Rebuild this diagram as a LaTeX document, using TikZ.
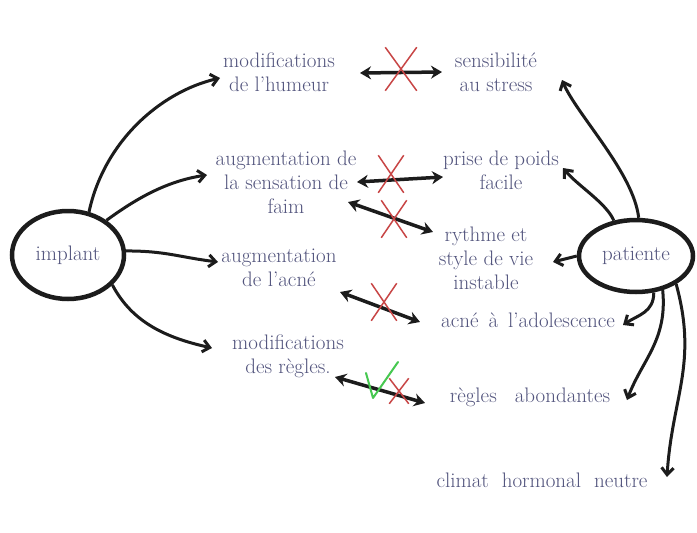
\documentclass[tikz,border=0pt]{standalone}
\usetikzlibrary{arrows.meta,shapes.geometric,shapes.misc}
\definecolor{ink}{RGB}{82,84,125}
\definecolor{pen}{RGB}{28,28,28}
\definecolor{xred}{RGB}{200,70,70}
\definecolor{vgreen}{RGB}{70,200,80}
\newcommand\wordgap[1]{\spaceskip=#1\relax}
\begin{document}
\begin{tikzpicture}[x=1pt,y=-1pt,
  txt/.style={text=ink,align=center,inner sep=1pt,font=\fontsize{21}{24}\selectfont},
  bubble/.style={ellipse,draw=pen,line width=4.5pt,inner sep=0pt,text=ink,font=\fontsize{21}{24}\selectfont},
  onearrow/.style={draw=pen,line width=3pt,-{Straight Barb[length=7pt,width=12pt,line width=3pt]}},
  twoarrow/.style={draw=pen,line width=3.5pt,{Stealth[length=11pt,width=13pt]}-{Stealth[length=11pt,width=13pt]}},
  redx/.style={cross out,draw=xred,line width=1.5pt,inner sep=0pt}]
\useasboundingbox[fill=white] (0,0) rectangle (697,533);

% central bubbles
\node[bubble,minimum width=112pt,minimum height=88pt] (implant) at (68,255) {implant};
\node[bubble,minimum width=114pt,minimum height=72pt] (patiente) at (636,256) {patiente};

% texts
\node[txt] (humeur) at (279,72) {modifications\\de l'humeur};
\node[txt] (stress) at (496,72) {sensibilité\\au stress};
\node[txt] (faim) at (286,182) {augmentation de\\la sensation de\\faim};
\node[txt] (poids) at (501,170) {prise de poids\\facile};
\node[txt] (rythme) at (486,258) {rythme et\\style de vie\\instable};
\node[txt] (acne) at (279,268) {augmentation\\de l'acné};
\node[txt] (regles) at (288,356) {modifications\\des règles.};
\node[txt] (ado) at (528,320) {\wordgap{10pt}acné à l'adolescence};
\node[txt] (abond) at (530,397) {\wordgap{18pt}règles abondantes};
\node[txt] (climat) at (542,480) {\wordgap{13pt}climat hormonal neutre};

% implant arrows
\draw[onearrow] (implant.64) .. controls +(15,-70) and +(-60,14) .. ([shift={(-59,6)}]humeur.center);
\draw[onearrow] (implant.42) .. controls +(30,-22) and +(-40,6) .. ([shift={(-79,-7)}]faim.center);
\draw[onearrow] (implant.4) .. controls +(40,0) and +(-40,-5) .. ([shift={(-61,-6)}]acne.center);
\draw[onearrow] (implant.-34) .. controls +(20,38) and +(-45,-10) .. ([shift={(-76,-8)}]regles.center);

% patiente arrows
\draw[onearrow] (patiente.86) .. controls +(-5,-45) and +(15,35) .. ([shift={(66,8)}]stress.center);
\draw[onearrow] (patiente.122) .. controls +(-8,-18) and +(15,18) .. ([shift={(62,-2)}]poids.center);
\draw[onearrow] (patiente.west) -- ([shift={(67,4)}]rythme.center);
\draw[onearrow] (patiente.-64) .. controls +(0,20) and +(15,-10) .. ([shift={(95,5)}]ado.center);
\draw[onearrow] (patiente.-52) .. controls +(5,50) and +(15,-40) .. ([shift={(97,3)}]abond.center);
\draw[onearrow] (patiente.-35) .. controls +(22,80) and +(5,-80) .. ([shift={(125,-3)}]climat.center);

% double arrows
\draw[twoarrow] ([shift={(81,1)}]humeur.center) -- ([shift={(-54,0)}]stress.center);
\draw[twoarrow] ([shift={(71,0)}]faim.center) -- ([shift={(-58,7)}]poids.center);
\draw[twoarrow] ([shift={(62,20)}]faim.center) -- ([shift={(-53,-26)}]rythme.center);
\draw[twoarrow] ([shift={(61,24)}]acne.center) -- ([shift={(-108,2)}]ado.center);
\draw[twoarrow] ([shift={(47,21)}]regles.center) -- ([shift={(-105,6)}]abond.center);

% crosses and check
\node[redx,minimum width=30pt,minimum height=42pt] (x1) at (401,69) {};
\node[redx,minimum width=24pt,minimum height=36pt] (x2) at (391,174) {};
\node[redx,minimum width=24pt,minimum height=36pt] (x3) at (394,219) {};
\node[redx,minimum width=24pt,minimum height=36pt] (x4) at (384,302) {};
\node[redx,minimum width=18pt,minimum height=24pt] (x5) at (399,391) {};
\draw[vgreen,line width=2pt,line cap=round,line join=round] (366,373) -- (373,398) -- (398,362);
\end{tikzpicture}
\end{document}
